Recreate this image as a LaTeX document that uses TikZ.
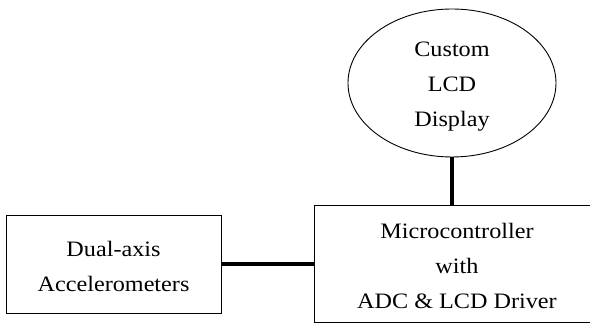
\documentclass[tikz,border=0pt]{standalone}
\usepackage{fontspec}
\setmainfont[FakeStretch=1.1]{Liberation Serif}
\usetikzlibrary{shapes.geometric}
\begin{document}
\begin{tikzpicture}[x=1pt,y=1pt,
  blockbox/.style={draw=black, line width=0.9pt, rectangle, inner sep=0pt},
  ovalbox/.style={draw=black, line width=0.9pt, ellipse, inner sep=0pt},
  lbl/.style={align=center, font=\fontsize{22}{35}\selectfont, inner sep=0pt},
  link/.style={line width=3.6pt}]
\useasboundingbox (0,0) rectangle (590,323);
\clip (0,0) rectangle (590,323);
\fill[white] (0,0) rectangle (590,323);
% boxes
\node[blockbox, minimum width=215pt, minimum height=98pt] (acc) at (113.5,59) {};
\node[blockbox, minimum width=286pt, minimum height=117pt] (mcu) at (457,59.5) {};
\node[ovalbox, minimum width=208pt, minimum height=148pt] (lcd) at (452,240) {};
% texts
\node[lbl] (acctxt) at (113.5,57) {Dual-axis\\Accelerometers};
\node[lbl] (mcutxt) at (457,57) {Microcontroller\\with\\ADC \& LCD Driver};
\node[lbl] (lcdtxt) at (452,236) {Custom\\LCD\\Display};
% connectors
\draw[link] (acc.east) -- (acc.east -| mcu.west);
\draw[link] (lcd.south) -- (lcd.south |- mcu.north);
\end{tikzpicture}
\end{document}
